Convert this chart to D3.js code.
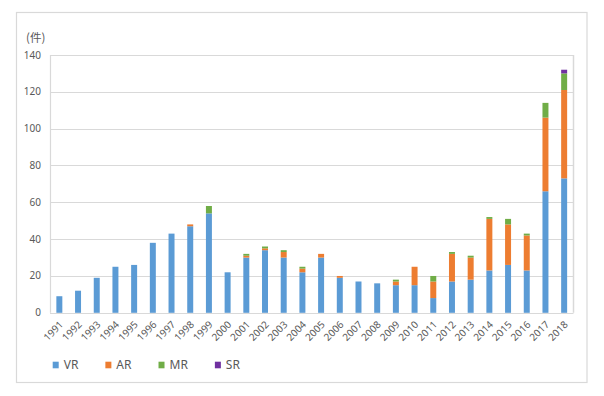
<!DOCTYPE html>
<html><head><meta charset="utf-8">
<script src="https://cdn.jsdelivr.net/npm/d3@7"></script>
<style>body{margin:0;background:#fff}svg{display:block}</style>
</head><body>
<svg id="c" width="604" height="396"></svg>
<script>
const years = ["1991","1992","1993","1994","1995","1996","1997","1998","1999","2000","2001","2002","2003","2004","2005","2006","2007","2008","2009","2010","2011","2012","2013","2014","2015","2016","2017","2018"];
const VR = [9,12,19,25,26,38,43,47,54,22,30,34,30,22,30,19,17,16,15,15,8,17,18,23,26,23,66,73];
const AR = [0,0,0,0,0,0,0,1,0,0,1,1,3,2,2,1,0,0,2,10,9,15,12,28,22,19,40,48];
const MR = [0,0,0,0,0,0,0,0,4,0,1,1,1,1,0,0,0,0,1,0,3,1,1,1,3,1,8,9];
const SR = [0,0,0,0,0,0,0,0,0,0,0,0,0,0,0,0,0,0,0,0,0,0,0,0,0,0,0,2];
const seriesNames = ["VR","AR","MR","SR"];
const seriesColors = ["#5B9BD5","#ED7D31","#70AD47","#7030A0"];
const yTicks = [0,20,40,60,80,100,120,140];
const unitLabel = "(件)";

const svg = d3.select("#c");
const font = "'Noto Sans', 'Liberation Sans', sans-serif";
const textColor = "#595959";
const gridColor = "#D9D9D9";

// outer frame
svg.append("rect").attr("x",16.5).attr("y",12.5).attr("width",570.5).attr("height",370)
  .attr("fill","#fff").attr("stroke",gridColor).attr("stroke-width",1.2);

const L=50, R=573.5, T=55, B=312.8;
const x = d3.scaleBand().domain(years).range([L,R]).paddingInner(0.68).paddingOuter(0.34);
const y = d3.scaleLinear().domain([0,140]).range([B,T]);

// gridlines
svg.append("g").selectAll("line").data(yTicks).join("line")
  .attr("x1",L).attr("x2",R).attr("y1",d=>Math.round(y(d))+0.5).attr("y2",d=>Math.round(y(d))+0.5)
  .attr("stroke",gridColor).attr("stroke-width",1.2);
// plot border sides
svg.append("line").attr("x1",L+0.5).attr("x2",L+0.5).attr("y1",T).attr("y2",B).attr("stroke",gridColor).attr("stroke-width",1.2);
svg.append("line").attr("x1",R).attr("x2",R).attr("y1",T).attr("y2",B).attr("stroke",gridColor).attr("stroke-width",1.5);

// y axis labels
svg.append("g").selectAll("text").data(yTicks).join("text")
  .attr("x",41).attr("y",d=>y(d)).attr("dy","0.35em").attr("text-anchor","end")
  .attr("font-family",font).attr("font-size",10).attr("fill",textColor).text(d=>d);

svg.append("text").attr("x",26).attr("y",38).attr("dy","0.35em")
  .attr("font-family","'Noto Sans CJK JP', sans-serif").attr("font-size",11.5).attr("fill",textColor).text(unitLabel);

// stacked data
const rows = years.map((yr,i)=>({year:yr, VR:VR[i], AR:AR[i], MR:MR[i], SR:SR[i]}));
const stack = d3.stack().keys(seriesNames)(rows);
const bars = svg.append("g");
stack.forEach((layer,k)=>{
  bars.append("g").attr("fill",seriesColors[k]).selectAll("rect").data(layer).join("rect")
    .attr("x",d=>x(d.data.year)).attr("width",x.bandwidth())
    .attr("y",d=>y(d[1])).attr("height",d=>y(d[0])-y(d[1]));
});

// x labels
svg.append("g").selectAll("text").data(years).join("text")
  .attr("transform",d=>`translate(${x(d)+x.bandwidth()/2+2},${B+10}) rotate(-45)`)
  .attr("text-anchor","end").attr("dy","0.35em")
  .attr("font-family",font).attr("font-size",10).attr("fill",textColor).text(d=>d);

// legend
let lx = 52.7;
const ly = 365;
seriesNames.forEach((n,k)=>{
  svg.append("rect").attr("x",lx).attr("y",ly-3.3).attr("width",6).attr("height",6.6).attr("fill",seriesColors[k]);
  const t = svg.append("text").attr("x",lx+11).attr("y",ly).attr("dy","0.35em")
    .attr("font-family",font).attr("font-size",12).attr("fill",textColor).text(n);
  lx = lx + 11 + t.node().getComputedTextLength() + 27;
});
</script>
</body></html>
